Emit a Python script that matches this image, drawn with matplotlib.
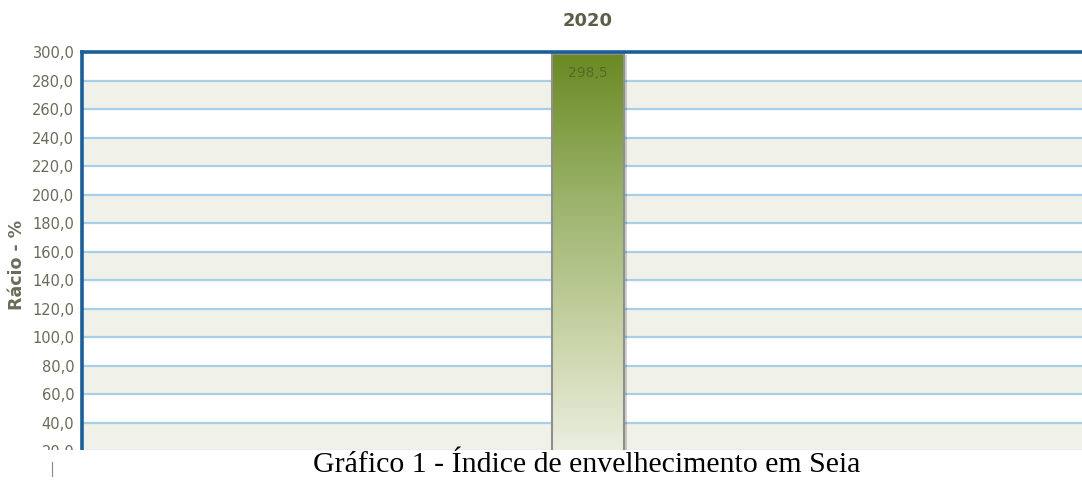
import numpy as np
import matplotlib
matplotlib.use("Agg")
import matplotlib.pyplot as plt
from matplotlib.patches import Rectangle
from matplotlib.colors import LinearSegmentedColormap
from matplotlib.lines import Line2D
import matplotlib.transforms as mtransforms

categories = ["2020"]
values = [298.5]
value_labels = ["298,5"]
yticks = list(range(20, 301, 20))
title = "2020"
ylabel = "Rácio - %"
caption = "Gráfico 1 - Índice de envelhecimento em Seia"

W, H = 1082, 482
fig = plt.figure(figsize=(W / 100, H / 100), dpi=100)
fig.patch.set_facecolor("white")

# axes geometry in pixels (axes extend below the visible crop and past the right edge)
ax_l, ax_r, ax_t, ax_b = 82, 1094, 52, 480
ax = fig.add_axes([ax_l / W, 1 - ax_b / H, (ax_r - ax_l) / W, (ax_b - ax_t) / H])
ax.set_xlim(-0.5, 0.5)
ax.set_ylim(0, 300)

# alternating bands
for lo in range(0, 300, 20):
    if lo % 40 == 20:
        ax.axhspan(lo, lo + 20, color="#f0f2ea", zorder=0, lw=0)

for t in yticks[:-1]:
    ax.axhline(t, color="#a8cfe8", lw=1.6, zorder=1)

for s in ["right", "bottom"]:
    ax.spines[s].set_visible(False)
for s in ["top", "left"]:
    ax.spines[s].set_color("#1c5f97")
    ax.spines[s].set_linewidth(2.6)
    ax.spines[s].set_zorder(5)

ax.set_yticks(yticks)
ax.set_yticklabels([f"{t:.1f}".replace(".", ",") for t in yticks],
                   fontsize=10.5, color="#6b6b5a")
ax.tick_params(axis="y", length=0, pad=5.5)
ax.set_xticks([])

ax.set_ylabel(ylabel, fontsize=12.5, fontweight="bold", color="#6b6b5a")
ax.yaxis.set_label_coords(-0.055, (ax_b - 265) / (ax_b - ax_t))

ax.set_title(title, fontsize=13, fontweight="bold", color="#5c5f48", pad=19)

# bar with gradient
cmap = LinearSegmentedColormap.from_list(
    "g", ["#f4f5ee", "#c9d4a8", "#9ab26a", "#6a8a22"])
bw = 72 / (ax_r - ax_l)
for i, v in enumerate(values):
    x0 = i - bw / 2
    off = mtransforms.offset_copy(ax.transData, fig=fig, x=3, y=-1, units="dots")
    sh = Rectangle((x0, 0), bw, v, facecolor="#000000", alpha=0.18, lw=0,
                   transform=off, zorder=2)
    ax.add_patch(sh)
    grad = np.linspace(0, 1, 256).reshape(-1, 1)
    im = ax.imshow(grad, cmap=cmap, origin="lower", aspect="auto",
                   extent=[x0, x0 + bw, 0, v], zorder=3)
    rect = Rectangle((x0, 0), bw, v, facecolor="none", edgecolor="#8f8f8f",
                     lw=1.5, zorder=4)
    ax.add_patch(rect)
    im.set_clip_path(rect)
    ax.text(i, v - 8, value_labels[i], ha="center", va="top", fontsize=10,
            color="#4a5a28", alpha=0.7, zorder=6)

# white cover for the cropped bottom part
fig.patches.append(Rectangle((0, 0), 1, (H - 450) / H, transform=fig.transFigure,
                             facecolor="white", edgecolor="none", zorder=10))
fig.add_artist(Line2D([52 / W, 52 / W], [1 - 462 / H, 1 - 476 / H],
                      transform=fig.transFigure, color="#888888", lw=0.8, zorder=11))

fig.text(587 / W, 1 - 465 / H, caption, ha="center", va="center",
         fontsize=21.5, family=["Liberation Serif", "DejaVu Serif"],
         color="black", zorder=12)

fig.savefig("out.png", dpi=100)
